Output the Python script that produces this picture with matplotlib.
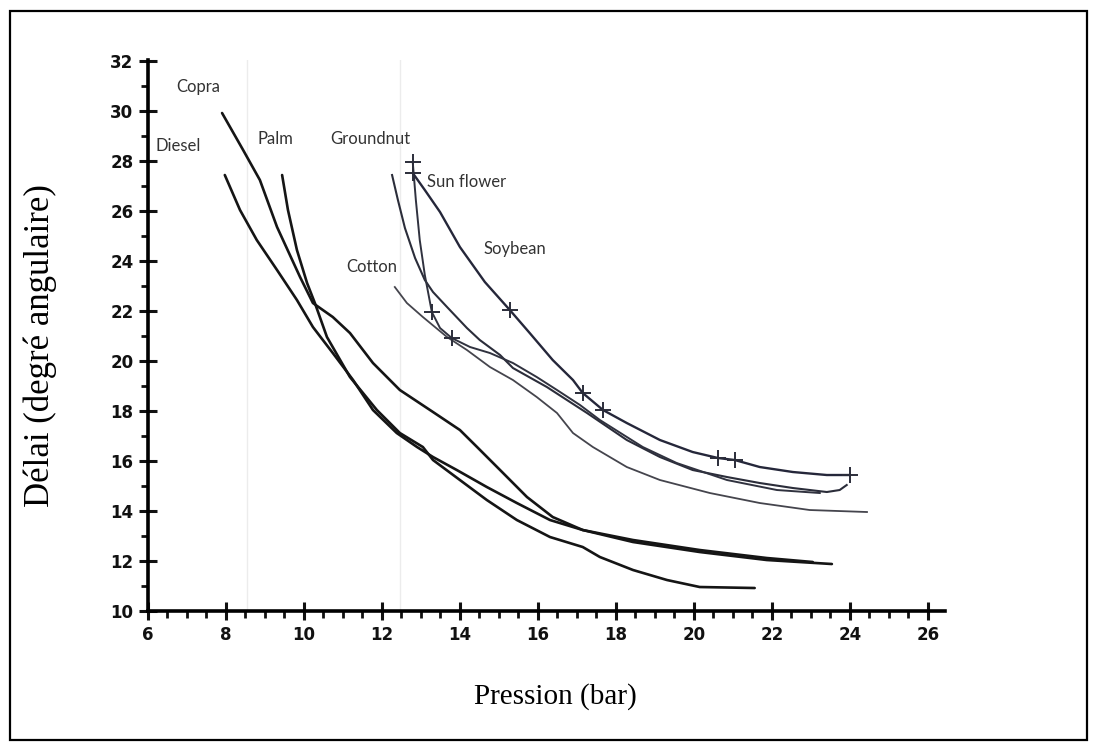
import matplotlib.pyplot as plt
from matplotlib.patches import Rectangle
from matplotlib.ticker import MultipleLocator

# Délai d'allumage en fonction de la pression d'injection (gazole et huiles végétales)
diesel_x = [7.97, 8.36, 8.79, 9.31, 9.82, 10.23, 10.74, 11.26, 11.77, 12.38, 12.90, 13.31,
            13.92, 14.69, 15.46, 16.31, 17.15, 18.44, 20.15, 21.87, 23.54]
diesel_y = [27.44, 26.04, 24.84, 23.64, 22.44, 21.36, 20.32, 19.24, 18.04, 17.12, 16.56, 16.16,
            15.64, 14.96, 14.32, 13.64, 13.24, 12.76, 12.36, 12.04, 11.88]

copra_x = [7.90, 8.44, 8.87, 9.31, 9.64, 9.90, 10.23, 10.74, 11.18, 11.77, 12.46, 13.31,
           14.00, 14.44, 15.03, 15.72, 16.38, 17.15, 18.44, 20.15, 21.87, 23.05]
copra_y = [29.92, 28.44, 27.24, 25.36, 24.24, 23.36, 22.32, 21.76, 21.12, 19.92, 18.84, 17.96,
           17.24, 16.56, 15.64, 14.56, 13.76, 13.24, 12.84, 12.44, 12.12, 11.96]

palm_x = [9.44, 9.59, 9.82, 10.08, 10.28, 10.59, 11.18, 11.87, 12.46, 13.05, 13.31, 14.00,
          14.69, 15.46, 16.31, 17.15, 17.59, 18.44, 19.31, 20.15, 21.56]
palm_y = [27.44, 26.04, 24.44, 23.12, 22.32, 20.96, 19.36, 18.04, 17.12, 16.56, 16.04, 15.24,
          14.44, 13.64, 12.96, 12.56, 12.16, 11.64, 11.24, 10.96, 10.92]

groundnut_x = [12.26, 12.41, 12.59, 12.85, 13.10, 13.31, 13.67, 14.18, 14.51, 15.03, 15.36,
               16.23, 17.26, 18.28, 19.13, 19.97, 20.85, 21.69, 22.54, 23.41, 23.74, 23.92]
groundnut_y = [27.44, 26.44, 25.32, 24.12, 23.24, 22.76, 22.16, 21.32, 20.84, 20.24, 19.72,
               18.96, 17.92, 16.84, 16.16, 15.64, 15.36, 15.12, 14.92, 14.76, 14.84, 15.04]

sunflower_x = [12.79, 12.87, 12.97, 13.10, 13.28, 13.49, 13.79, 14.26, 14.77, 15.36, 15.97,
               16.49, 17.08, 17.59, 18.69, 19.56, 20.85, 22.13, 23.23]
sunflower_y = [27.96, 26.44, 24.84, 23.44, 21.96, 21.32, 20.92, 20.56, 20.32, 19.92, 19.36,
               18.84, 18.24, 17.64, 16.56, 15.92, 15.24, 14.84, 14.72]
sunflower_pts_x = [12.79, 13.28, 13.79]
sunflower_pts_y = [27.96, 21.96, 20.92]

soybean_x = [12.79, 13.10, 13.49, 14.00, 14.64, 15.28, 15.79, 16.38, 16.90, 17.15, 17.67,
             18.28, 19.13, 19.97, 20.62, 21.05, 21.69, 22.54, 23.41, 24.00]
soybean_y = [27.52, 26.84, 25.96, 24.56, 23.16, 22.04, 21.12, 20.04, 19.24, 18.72, 18.04,
             17.52, 16.84, 16.36, 16.12, 16.04, 15.76, 15.56, 15.44, 15.44]
soybean_pts_x = [12.79, 15.28, 17.15, 17.67, 20.62, 21.05, 24.00]
soybean_pts_y = [27.52, 22.04, 18.72, 18.04, 16.12, 16.04, 15.44]

cotton_x = [12.33, 12.64, 13.05, 13.67, 14.18, 14.77, 15.36, 15.97, 16.49, 16.90, 17.41,
            18.28, 19.13, 20.41, 21.69, 22.97, 24.44]
cotton_y = [22.96, 22.32, 21.76, 20.96, 20.44, 19.76, 19.24, 18.56, 17.92, 17.12, 16.56,
            15.76, 15.24, 14.72, 14.32, 14.04, 13.96]

# étiquettes des courbes (texte, x, y)
noms = ['Copra', 'Diesel', 'Palm', 'Groundnut', 'Sun flower', 'Soybean', 'Cotton']
noms_x = [7.28, 6.77, 9.26, 11.69, 14.18, 15.41, 11.74]
noms_y = [30.96, 28.6, 28.9, 28.9, 27.16, 24.5, 23.76]

fig = plt.figure(figsize=(10.97, 7.51), dpi=100)
ax = fig.add_axes([0.1349, 0.1864, 0.7265, 0.7340])

# traits verticaux pâles du papier scanné
for xv in [8.54, 12.46]:
    ax.axvline(xv, color='#ececec', lw=1.0, zorder=0)

# groupe du bas : traits épais
for xs, ys in [(diesel_x, diesel_y), (copra_x, copra_y), (palm_x, palm_y)]:
    ax.plot(xs, ys, color='#151515', lw=1.9, solid_capstyle='round', solid_joinstyle='round')

# groupe du haut : traits plus fins, gris bleuté
ax.plot(groundnut_x, groundnut_y, color='#2b2d3a', lw=1.5, solid_joinstyle='round')
ax.plot(sunflower_x, sunflower_y, color='#30323f', lw=1.4, solid_joinstyle='round')
ax.plot(soybean_x, soybean_y, color='#25273a', lw=1.7, solid_joinstyle='round')
ax.plot(cotton_x, cotton_y, color='#45454d', lw=1.3, solid_joinstyle='round')
ax.plot(sunflower_pts_x, sunflower_pts_y, ls='none', marker='+', ms=11, mew=1.4, color='#2b2d3a')
ax.plot(soybean_pts_x, soybean_pts_y, ls='none', marker='+', ms=11, mew=1.4, color='#2b2d3a')

for nom, nx, ny in zip(noms, noms_x, noms_y):
    ax.text(nx, ny, nom, ha='center', va='center', fontsize=12, family='Lato', color='#333333')

ax.set_xlim(6, 26.44)
ax.set_ylim(10, 32.05)
ax.spines['top'].set_visible(False)
ax.spines['right'].set_visible(False)
ax.spines['left'].set_linewidth(2.6)
ax.spines['bottom'].set_linewidth(2.6)

ax.xaxis.set_major_locator(MultipleLocator(2))
ax.xaxis.set_minor_locator(MultipleLocator(0.5))
ax.yaxis.set_major_locator(MultipleLocator(2))
ax.yaxis.set_minor_locator(MultipleLocator(1))
ax.tick_params(which='major', direction='inout', length=13, width=2.2, pad=4, color='#111111')
ax.tick_params(which='minor', direction='out', length=5, width=2.0, color='#111111')
for lab in ax.get_xticklabels() + ax.get_yticklabels():
    lab.set_fontweight('heavy')
    lab.set_fontsize(12)
    lab.set_color('#111111')

fig.text(0.037, 0.54, 'Délai (degré angulaire)', rotation=90, ha='center', va='center',
         family='Liberation Serif', fontsize=25)
fig.text(0.506, 0.072, 'Pression (bar)', ha='center', va='center',
         family='Liberation Serif', fontsize=21)

# cadre autour de la figure
fig.patches.append(Rectangle((10 / 1097, 11 / 751), 1077 / 1097, 729 / 751,
                             transform=fig.transFigure, fill=False, lw=1.6, edgecolor='black'))

fig.savefig('out.png', dpi=100)
